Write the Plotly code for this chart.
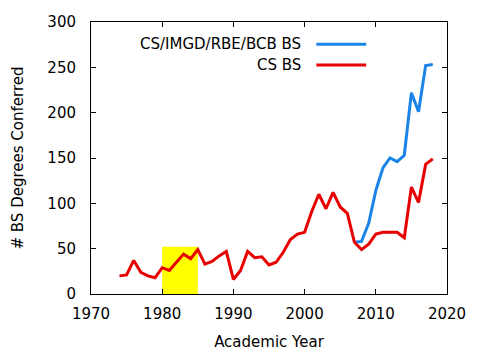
import plotly.graph_objects as go

years_cs = list(range(1974, 2019))
cs_bs = [20, 21, 37, 24, 20, 18, 29, 26, 35, 44, 39, 49, 33, 36, 42, 47,
         16, 26, 47, 40, 41, 32, 35, 46, 60, 66, 68, 91, 110, 94, 112, 96,
         89, 57, 49, 55, 66, 68, 68, 68, 62, 118, 101, 143, 149]

years_all = list(range(2007, 2019))
all_bs = [57, 58, 78, 114, 139, 150, 146, 153, 222, 201, 252, 253]

highlight_years = [1980, 1985]
highlight_height = 52

name_all = "CS/IMGD/RBE/BCB BS"
name_cs = "CS BS"
blue = "#1a84e8"
red = "#e80000"

fig = go.Figure()
fig.add_shape(type="rect", xref="x", yref="y",
              x0=highlight_years[0], x1=highlight_years[1], y0=0, y1=highlight_height,
              fillcolor="#ffff00", line=dict(width=0), layer="below")
fig.add_trace(go.Scatter(x=years_all, y=all_bs, mode="lines", name=name_all,
                         line=dict(color=blue, width=3)))
fig.add_trace(go.Scatter(x=years_cs, y=cs_bs, mode="lines", name=name_cs,
                         line=dict(color=red, width=3)))

font = dict(family="DejaVu Sans", size=15, color="black")

# legend imitation: right-aligned text followed by line sample
for i, (nm, col) in enumerate([(name_all, blue), (name_cs, red)]):
    yy = 0.918 - i * 0.076
    fig.add_annotation(xref="paper", yref="paper", x=0.595, y=yy, text=nm,
                       showarrow=False, xanchor="right", yanchor="middle", font=font)
    fig.add_shape(type="line", xref="paper", yref="paper", x0=0.633, x1=0.773,
                  y0=yy, y1=yy, line=dict(color=col, width=3))

axis_common = dict(showline=True, linecolor="black", linewidth=1, mirror="ticks",
                   ticks="inside", ticklen=5, tickcolor="black", showgrid=False,
                   zeroline=False, tickfont=font)
fig.update_xaxes(range=[1970, 2020], dtick=10, tick0=1970, ticklabelstandoff=6,
                 title=dict(text="Academic Year", font=font, standoff=14), **axis_common)
fig.update_yaxes(range=[0, 300], dtick=50, tick0=0, ticklabelstandoff=11,
                 title=dict(text="# BS Degrees Conferred", font=font, standoff=20), **axis_common)

fig.update_layout(width=480, height=360, margin=dict(l=91, r=33, t=22, b=62),
                  plot_bgcolor="white", paper_bgcolor="white", showlegend=False,
                  font=font)
fig.write_html("out.html", post_script="document.body.style.margin='0';",
               config={"displayModeBar": False})
